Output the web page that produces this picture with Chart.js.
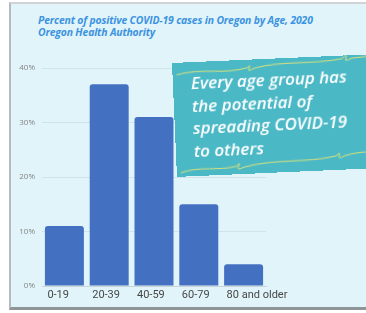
<!DOCTYPE html>
<html>
<head>
<meta charset="utf-8">
<script src="https://cdn.jsdelivr.net/npm/chart.js@4.4.1/dist/chart.umd.min.js"></script>
<style>
  html, body { margin: 0; padding: 0; background: #ffffff; }
  body { width: 366px; height: 313px; position: relative; overflow: hidden; font-family: "Open Sans", sans-serif; }
  .frame {
    position: absolute; left: 9px; top: 2px; width: 366px; height: 303px;
    background: #e1f4fa;
    border-left: 2px solid #b4babd;
    border-top: 2px solid #cfd3d5;
    border-bottom: 3px solid #8f9496;
  }
  .title {
    position: absolute; left: 38px; top: 14px;
    font-family: "Open Sans", sans-serif; font-style: italic; font-weight: 700;
    font-size: 10.4px; line-height: 12px; color: #3b93e0; letter-spacing: -0.15px;
  }
  #chart-wrap { position: absolute; left: 0; top: 0; width: 366px; height: 313px; }
  .callout {
    position: absolute; left: 172px; top: 63px; width: 210px; height: 114px;
    background: #4bb8c6;
    transform: rotate(-2.5deg); transform-origin: 0 0;
    box-sizing: border-box; padding: 10px 0 0 18px;
    color: #ffffff; font-family: "Open Sans", sans-serif; font-style: italic; font-weight: 600;
    font-size: 17px; line-height: 22.5px; letter-spacing: 0;
  }
  .callout svg { position: absolute; left: 0; top: 0; }
  .callout span { position: relative; }
</style>
</head>
<body>
<div class="frame"></div>
<div class="title">Percent of positive COVID-19 cases in Oregon by Age, 2020<br>Oregon Health Authority</div>
<div id="chart-wrap"><canvas id="bars" width="366" height="313"></canvas></div>
<div class="callout">
  <svg width="210" height="114" viewBox="0 0 210 114">
    <path d="M4 12 C30 6, 50 14, 75 8 q4 -4 2 0 q-3 5 4 1 C110 2, 140 8, 170 3 q6 -5 4 0 q-3 4 6 0 L206 1"
          fill="none" stroke="#d9e27b" stroke-width="1"/>
    <path d="M4 110 C25 104, 40 110, 60 106 q5 -5 2 0 q-3 5 6 1 C100 100, 130 106, 160 100 q5 -5 3 0 q-2 4 6 0 C185 96, 196 98, 206 96"
          fill="none" stroke="#d9e27b" stroke-width="1"/>
  </svg>
  <span>Every age group has<br>the potential of<br>spreading COVID-19<br>to others</span>
</div>
<script>
// ============================================
// Data
// ============================================
const ageGroups = ['0-19', '20-39', '40-59', '60-79', '80 and older'];
const casePercent = [11, 37, 31, 15, 4];
const yTicks = [0, 10, 20, 30, 40];

const ctx = document.getElementById('bars').getContext('2d');

new Chart(ctx, {
  type: 'bar',
  data: {
    labels: ageGroups,
    datasets: [{
      label: 'Percent of positive cases',
      data: casePercent,
      backgroundColor: '#4470c2',
      borderRadius: { topLeft: 3, topRight: 3 },
      borderSkipped: 'bottom',
      categoryPercentage: 1,
      barPercentage: 0.87
    }]
  },
  options: {
    responsive: false,
    animation: false,
    layout: {
      padding: { top: 68, left: 16, right: 100, bottom: 6 }
    },
    plugins: {
      legend: { display: false },
      tooltip: { enabled: false }
    },
    scales: {
      x: {
        grid: { display: false, drawTicks: false },
        border: { display: true, color: '#c8d4d8', width: 1 },
        ticks: {
          color: '#474747',
          font: { family: 'Roboto, sans-serif', size: 11 },
          padding: 3,
          align: 'start',
          labelOffset: -17,
          maxRotation: 0,
          autoSkip: false
        },
        afterFit: (s) => { s.height = 21; }
      },
      y: {
        min: 0,
        max: 40,
        afterBuildTicks: (s) => { s.ticks = yTicks.map(v => ({ value: v })); },
        grid: { color: 'rgba(150, 170, 180, 0.22)', drawTicks: false },
        border: { display: false },
        ticks: {
          color: '#858585',
          font: { family: '"Open Sans", sans-serif', size: 8 },
          padding: 7,
          callback: (v) => v + '%'
        },
        afterFit: (s) => { s.width = 26; }
      }
    }
  }
});
</script>
</body>
</html>
